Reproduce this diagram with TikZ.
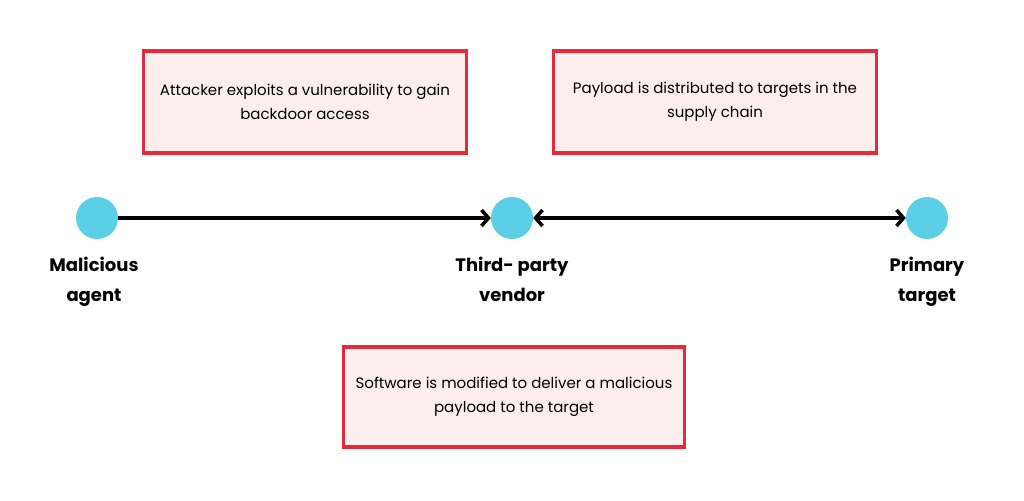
\documentclass[tikz,border=0pt]{standalone}
\usepackage{fontspec}
\setmainfont{Poppins}
\usepackage{xcolor}
\usetikzlibrary{arrows.meta, positioning}

\definecolor{boxred}{HTML}{E52A3C}
\definecolor{boxfill}{HTML}{FDEEEE}
\definecolor{dotblue}{HTML}{5BCFE6}

\tikzset{
	etapa/.style={draw=boxred, fill=boxfill, line width=3.5pt, minimum width=323pt, minimum height=102pt,
		align=center, font=\fontsize{15}{24}\selectfont},
	ponto/.style={circle, fill=dotblue, minimum size=42pt, inner sep=0pt},
	rotulo/.style={align=center, anchor=north, inner sep=0pt, font=\bfseries\fontsize{18}{30}\selectfont},
	farpa/.tip={Straight Barb[length=7pt, width=16pt, line width=3.5pt]},
	seta/.style={line width=4pt, -farpa}
}

\begin{document}
\begin{tikzpicture}[x=1pt, y=1pt]
				\useasboundingbox (0,0) rectangle (1024,500);
				
				%% Pontos da cadeia
				\node [ponto] (agente) at (97,282) {};
				\node [ponto] (fornecedor) at (512,282) {};
				\node [ponto] (alvo) at (927,282) {};
				
				%% Rotulos dos pontos
				\node [rotulo] (agenteR) at (94,243) {Malicious\\agent};
				\node [rotulo] (fornecedorR) at (512,243) {Third- party\\vendor};
				\node [rotulo] (alvoR) at (927,243) {Primary\\target};
				
				%% Setas
				\draw [seta] (agente)--(fornecedor);
				\draw [seta, farpa-farpa] (fornecedor)--(alvo);
				
				%% Caixas de texto
				\node [etapa] (passo1) at (305,398) {Attacker exploits a vulnerability to gain\\backdoor access};
				\node [etapa] (passo2) at (715,398) {Payload is distributed to targets in the\\supply chain};
				\node [etapa, minimum width=341pt, minimum height=100pt] (passo3) at (514,103) {Software is modified to deliver a malicious\\payload to the target};
			\end{tikzpicture}
\end{document}
